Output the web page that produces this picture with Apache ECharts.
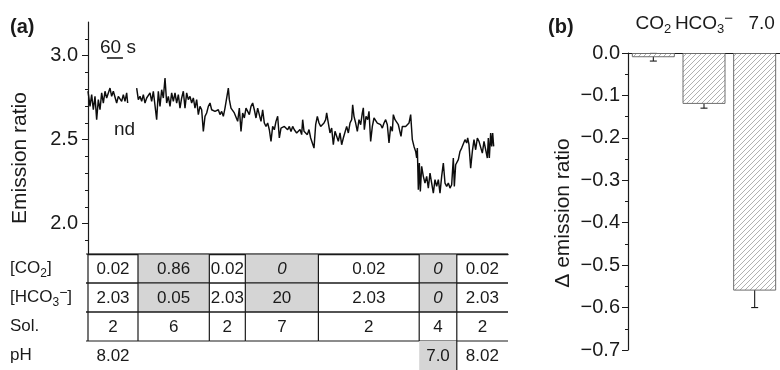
<!DOCTYPE html>
<html><head><meta charset="utf-8">
<script src="https://cdn.jsdelivr.net/npm/echarts@6/dist/echarts.min.js"></script>
<style>html,body{margin:0;padding:0;background:#fff}#c{width:780px;height:370px}</style>
</head><body><div id="c"></div>
<script>
// ---------- Panel (a): emission-ratio trace (time in s) ----------
const traceTime = [
 0,7.5,13.75,20,26.25,32.5,38.75,45,51.25,57.5,63.75,70,76.25,82.5,88.75,95,101.25,107.5,113.75,120,126.25,132.5,138.75,145,148.75,
 165,
 182.5,188.75,195,201.25,207.5,213.75,220,226.25,232.5,238.75,245,251.25,257.5,263.75,270,276.25,282.5,288.75,295,301.25,307.5,313.75,320,326.25,332.5,338.75,345,351.25,357.5,363.75,370,376.25,382.5,
 388.75,395,401.25,407.5,413.75,420,426.25,432.5,438.75,445,451.25,457.5,463.75,470,476.25,482.5,488.75,495,501.25,507.5,513.75,520,526.25,530,536.25,542.5,548.75,555,561.25,567.5,573.75,580,586.25,592.5,598.75,605,611.25,617.5,623.75,630,636.25,642.5,648.75,655,661.25,667.5,673.75,680,686.25,692.5,698.75,705,711.25,717.5,723.75,730,736.25,742.5,748.75,755,761.25,767.5,773.75,
 782.5,788.75,795,801.25,805,810,816.25,822.5,828.75,835,841.25,847.5,853.75,860,866.25,872.5,878.75,885,891.25,895,901.25,907.5,913.75,920,926.25,932.5,938.75,945,951.25,957.5,963.75,970,976.25,982.5,988.75,992.5,997.5,1003.75,1010,1016.25,1022.5,1028.75,1032.5,1036.25,1042.5,1048.75,1053.75,1060,1066.25,1072.5,1078.75,1085,1091.25,1097.5,1103.75,1110,1116.25,1122.5,1128.75,1135,1141.25,1145,1151.25,1157.5,1163.75,1170,
 1173.75,1178.75,1185,1191.25,1197.5,1203.75,1210,1216.25,1222.5,1228.75,1232.5,1235,1238.75,1242.5,1246.25,1251.25,1257.5,1263.75,1270,1276.25,1282.5,1288.75,1295,1301.25,1307.5,1313.75,1320,1326.25,1332.5,1338.75,1345,1351.25,1357.5,1363.75,1370,1373.75,1378.75,1383.75,1388.75,1395,1401.25,1407.5,1413.75,1420,1423.75,1428.75,1435,1441.25,1447.5,1453.75,1460,1466.25,1472.5,1478.75,1485,1491.25,1497.5,1501.25,1505,1510,1513.75,1517.5,1521.25
];
const traceRatio = [
 2.788,2.698,2.768,2.678,2.758,2.619,2.738,2.678,2.778,2.718,2.788,2.748,2.778,2.807,2.758,2.788,2.797,2.718,2.758,2.768,2.728,2.768,2.728,2.778,2.718,
 null,
 2.807,2.738,2.758,2.728,2.768,2.718,2.748,2.738,2.778,2.728,2.788,2.778,2.619,2.788,2.698,2.797,2.748,2.867,2.718,2.758,2.698,2.778,2.728,2.778,2.718,2.768,2.688,2.748,2.788,2.688,2.778,2.738,2.758,
 2.718,2.748,2.688,2.738,2.649,2.698,2.678,2.549,2.639,2.659,2.698,2.718,2.678,2.688,2.668,2.659,2.678,2.649,2.668,2.639,2.688,2.698,2.807,2.738,2.688,2.698,2.659,2.668,2.609,2.688,2.549,2.659,2.629,2.688,2.678,2.649,2.698,2.718,2.678,2.629,2.688,2.678,2.609,2.678,2.599,2.579,2.599,2.559,2.490,2.579,2.559,2.609,2.639,2.510,2.569,2.559,2.579,2.569,2.559,2.579,2.549,2.579,2.559,
 2.540,2.550,2.560,2.530,2.619,2.550,2.560,2.530,2.560,2.510,2.520,2.450,2.589,2.639,2.599,2.579,2.569,2.599,2.619,2.659,2.599,2.540,2.569,2.470,2.550,2.520,2.490,2.540,2.470,2.510,2.500,2.579,2.540,2.599,2.619,2.708,2.639,2.599,2.550,2.619,2.589,2.659,2.689,2.560,2.639,2.619,2.669,2.490,2.579,2.629,2.619,2.599,2.609,2.589,2.569,2.599,2.619,2.589,2.480,2.579,2.550,2.649,2.619,2.629,2.589,2.599,
 2.520,2.579,2.569,2.579,2.589,2.599,2.649,2.500,2.460,2.430,2.391,2.450,2.202,2.361,2.192,2.341,2.282,2.242,2.282,2.212,2.301,2.242,2.182,2.262,2.222,2.262,2.182,2.282,2.361,2.242,2.222,2.242,2.212,2.232,2.391,2.222,2.351,2.361,2.381,2.430,2.450,2.460,2.500,2.480,2.510,2.470,2.331,2.430,2.500,2.440,2.510,2.490,2.500,2.420,2.490,2.480,2.391,2.510,2.391,2.540,2.460,2.540,2.460
];
const yTickLabelsA = [2.0, 2.5, 3.0];
const yMinorTicksA = [1.9, 2.1, 2.2, 2.3, 2.4, 2.6, 2.7, 2.8, 2.9, 3.1];
const scaleBarStart = 71, scaleBarSeconds = 60, scaleBarLevel = 2.986;

// ---------- Panel (a): solution table ----------
const segmentEdges = [0, 187.5, 455, 590, 864, 1242, 1383, 1575];
const rowLabels = ['{n|[CO}{sub|2}{n|]}', '{n|[HCO}{sub|3}{sup|−}{n|]}', '{n|Sol.}', '{n|pH}'];
const co2Values  = ['0.02', '0.86', '0.02', '0',  '0.02', '0', '0.02'];
const hco3Values = ['2.03', '0.05', '2.03', '20', '2.03', '0', '2.03'];
const solValues  = ['2', '6', '2', '7', '2', '4', '2'];
const phValues   = ['8.02', '', '', '', '', '7.0', '8.02'];
const co2Changed  = [0, 1, 0, 1, 0, 1, 0];
const hco3Changed = [0, 1, 0, 1, 0, 1, 0];
const phChanged   = [0, 0, 0, 0, 0, 1, 0];

// ---------- Panel (b): bars ----------
const barCategories = ['{n|CO}{sub|2}', '{n|HCO}{sub|3}{sup|−}', '{last|7.0}'];
const barValues = [-0.01, -0.12, -0.56];
const barErrors = [0.009, 0.01, 0.04];

const FONT = '"Liberation Sans", Arial, sans-serif';
const INK = '#1a1a1a';

const cells = [];
const rowsVals = [co2Values, hco3Values, solValues, phValues];
const rowsGrey = [co2Changed, hco3Changed, null, phChanged];
for (let r = 0; r < 4; r++) {
  for (let c = 0; c < 7; c++) {
    cells.push({
      s: segmentEdges[c], e: segmentEdges[c + 1], row: r, col: c,
      text: rowsVals[r][c],
      grey: rowsGrey[r] ? rowsGrey[r][c] : 0,
      italic: rowsVals[r][c] === '0'
    });
  }
}

function hatchPattern() {
  const n = 5, cv = document.createElement('canvas');
  cv.width = n; cv.height = n;
  const g = cv.getContext('2d');
  g.fillStyle = '#fff'; g.fillRect(0, 0, n, n);
  g.strokeStyle = '#a8a8a8'; g.lineWidth = 0.9;
  g.beginPath();
  g.moveTo(0, n); g.lineTo(n, 0);
  g.moveTo(-1, 1); g.lineTo(1, -1);
  g.moveTo(n - 1, n + 1); g.lineTo(n + 1, n - 1);
  g.stroke();
  return cv;
}

function richSet(size) {
  return {
    n: { fontSize: size, fontFamily: FONT, color: INK },
    last: { fontSize: size, fontFamily: FONT, color: INK, padding: [0, 0, 0, 14] },
    sub: { fontSize: Math.round(size * 0.68), fontFamily: FONT, color: INK, verticalAlign: 'bottom', padding: [0, 0, -3, 0] },
    sup: { fontSize: Math.round(size * 0.8), fontFamily: FONT, color: INK, verticalAlign: 'top', padding: [-3, 0, 0, 0] }
  };
}

const chart = echarts.init(document.getElementById('c'), null, { renderer: 'canvas' });
const tracePairs = traceTime.map((t, i) => [t, traceRatio[i] === null ? '-' : traceRatio[i]]);

chart.setOption({
  animation: false,
  backgroundColor: '#fff',
  grid: [
    { left: 88, top: 22, width: 420, height: 232 },
    { left: 88, top: 22, width: 420, height: 232 },
    { left: 88, top: 254, width: 420, height: 122.7 },
    { left: 628, top: 53, width: 156, height: 297 }
  ],
  xAxis: [
    { gridIndex: 0, type: 'value', min: 0, max: 1575, axisLine: { show: true, onZero: false, lineStyle: { color: INK, width: 1.3 } },
      axisTick: { show: false }, axisLabel: { show: false }, splitLine: { show: false } },
    { gridIndex: 1, type: 'value', min: 0, max: 1575, show: false },
    { gridIndex: 2, type: 'value', min: 0, max: 1575, show: false },
    { gridIndex: 3, type: 'category', data: barCategories, position: 'top',
      axisLine: { show: true, onZero: false, lineStyle: { color: INK, width: 1.2 } }, axisTick: { show: false },
      axisLabel: { show: true, interval: 0, hideOverlap: false, margin: 20, fontSize: 19, fontFamily: FONT, color: INK, rich: richSet(19) } }
  ],
  yAxis: [
    { gridIndex: 0, type: 'value', min: 1.82, max: 3.2,
      axisLine: { show: true, lineStyle: { color: INK, width: 1.2 } },
      axisTick: { show: true, length: 6, customValues: yTickLabelsA, lineStyle: { color: INK } },
      axisLabel: { show: true, customValues: yTickLabelsA, formatter: v => Number(v).toFixed(1), fontSize: 20, fontFamily: FONT, color: INK, margin: 10 },
      splitLine: { show: false } },
    { gridIndex: 1, type: 'value', min: 1.82, max: 3.2,
      axisLine: { show: false }, axisLabel: { show: false }, splitLine: { show: false },
      axisTick: { show: true, length: 3, customValues: yMinorTicksA, lineStyle: { color: INK } } },
    { gridIndex: 2, type: 'category', data: rowLabels, inverse: true,
      axisLine: { show: false }, axisTick: { show: false }, splitLine: { show: false },
      axisLabel: { show: true, interval: 0, align: 'left', margin: 78, fontSize: 17, fontFamily: FONT, color: INK, rich: richSet(17) } },
    { gridIndex: 3, type: 'value', min: -0.7, max: 0, interval: 0.1,
      axisLine: { show: true, lineStyle: { color: INK, width: 1.2 } },
      axisTick: { show: true, length: 6, lineStyle: { color: INK } },
      minorTick: { show: true, splitNumber: 2, length: 3, lineStyle: { color: INK } },
      axisLabel: { fontSize: 20, fontFamily: FONT, color: INK, margin: 8,
        formatter: v => (v === 0 ? '0.0' : '−' + Math.abs(v).toFixed(1)) },
      splitLine: { show: false } }
  ],
  series: [
    { type: 'line', xAxisIndex: 0, yAxisIndex: 0, data: tracePairs, showSymbol: false, symbol: 'none',
      connectNulls: false, lineStyle: { color: '#0d0d0d', width: 1.45 } },
    { type: 'line', xAxisIndex: 0, yAxisIndex: 0, symbol: 'none',
      data: [[scaleBarStart, scaleBarLevel], [scaleBarStart + scaleBarSeconds, scaleBarLevel]],
      lineStyle: { color: '#111', width: 1.6 } },
    { type: 'custom', xAxisIndex: 2, yAxisIndex: 2, clip: false,
      data: cells.map(c => [c.s, c.e, c.row]),
      encode: { x: [0, 1], y: 2 },
      renderItem: function (params, api) {
        const c = cells[params.dataIndex];
        const p0 = api.coord([c.s, c.row]);
        const p1 = api.coord([c.e, c.row]);
        const h = api.size([0, 1])[1];
        const top = p0[1] - h / 2, bot = p0[1] + h / 2;
        const x0 = p0[0], x1 = p1[0];
        const ch = [];
        if (c.grey) ch.push({ type: 'rect', shape: { x: x0, y: top, width: x1 - x0, height: h }, style: { fill: '#d5d5d5' } });
        const ls = { stroke: INK, lineWidth: 1.2 };
        if (c.row < 3) {
          ch.push({ type: 'line', shape: { x1: x0 - (c.col === 0 ? 2 : 0), y1: top, x2: x1, y2: top }, style: ls });
          ch.push({ type: 'line', shape: { x1: x0 - (c.col === 0 ? 2 : 0), y1: bot, x2: x1, y2: bot }, style: ls });
          ch.push({ type: 'line', shape: { x1: x0, y1: top, x2: x0, y2: bot }, style: ls });
        } else if (c.col > 0 && phChanged[c.col - 1]) {
          ch.push({ type: 'line', shape: { x1: x0, y1: top, x2: x0, y2: bot }, style: ls });
        }
        if (c.text) {
          ch.push({ type: 'text', style: { x: (x0 + x1) / 2, y: p0[1] + 1, text: c.text,
            font: (c.italic ? 'italic ' : '') + '17px ' + FONT, fill: INK,
            align: 'center', verticalAlign: 'middle', textAlign: 'center', textVerticalAlign: 'middle' } });
        }
        return { type: 'group', children: ch };
      } },
    { type: 'bar', xAxisIndex: 3, yAxisIndex: 3, data: barValues, barWidth: 43,
      itemStyle: { color: { image: hatchPattern(), repeat: 'repeat' }, borderColor: '#6e6e6e', borderWidth: 1 } },
    { type: 'custom', xAxisIndex: 3, yAxisIndex: 3, clip: false,
      data: barValues.map((v, i) => [i, v - barErrors[i], v + barErrors[i]]),
      encode: { x: 0, y: [1, 2] },
      renderItem: function (params, api) {
        const lo = api.coord([api.value(0), api.value(1)]);
        const hi = api.coord([api.value(0), api.value(2)]);
        const w = 3.5, st = { stroke: INK, lineWidth: 1.1 };
        return { type: 'group', children: [
          { type: 'line', shape: { x1: lo[0], y1: lo[1], x2: hi[0], y2: hi[1] }, style: st },
          { type: 'line', shape: { x1: lo[0] - w, y1: lo[1], x2: lo[0] + w, y2: lo[1] }, style: st },
          { type: 'line', shape: { x1: hi[0] - w, y1: hi[1], x2: hi[0] + w, y2: hi[1] }, style: st }
        ] };
      } }
  ],
  graphic: [
    { type: 'text', x: 10, y: 27, style: { text: '(a)', font: 'bold 20px ' + FONT, fill: INK, verticalAlign: 'middle' } },
    { type: 'text', x: 548, y: 27, style: { text: '(b)', font: 'bold 20px ' + FONT, fill: INK, verticalAlign: 'middle' } },
    { type: 'text', x: 100, y: 48, style: { text: '60 s', font: '19px ' + FONT, fill: INK, verticalAlign: 'middle' } },
    { type: 'text', x: 114, y: 130, style: { text: 'nd', font: '19px ' + FONT, fill: INK, verticalAlign: 'middle' } },
    { type: 'text', x: 20, y: 158, rotation: Math.PI / 2, style: { text: 'Emission ratio', font: '21px ' + FONT, fill: INK, align: 'center', verticalAlign: 'middle' } },
    { type: 'text', x: 563, y: 213, rotation: Math.PI / 2, style: { text: 'Δ emission ratio', font: '21px ' + FONT, fill: INK, align: 'center', verticalAlign: 'middle' } }
  ]
});
</script></body></html>
